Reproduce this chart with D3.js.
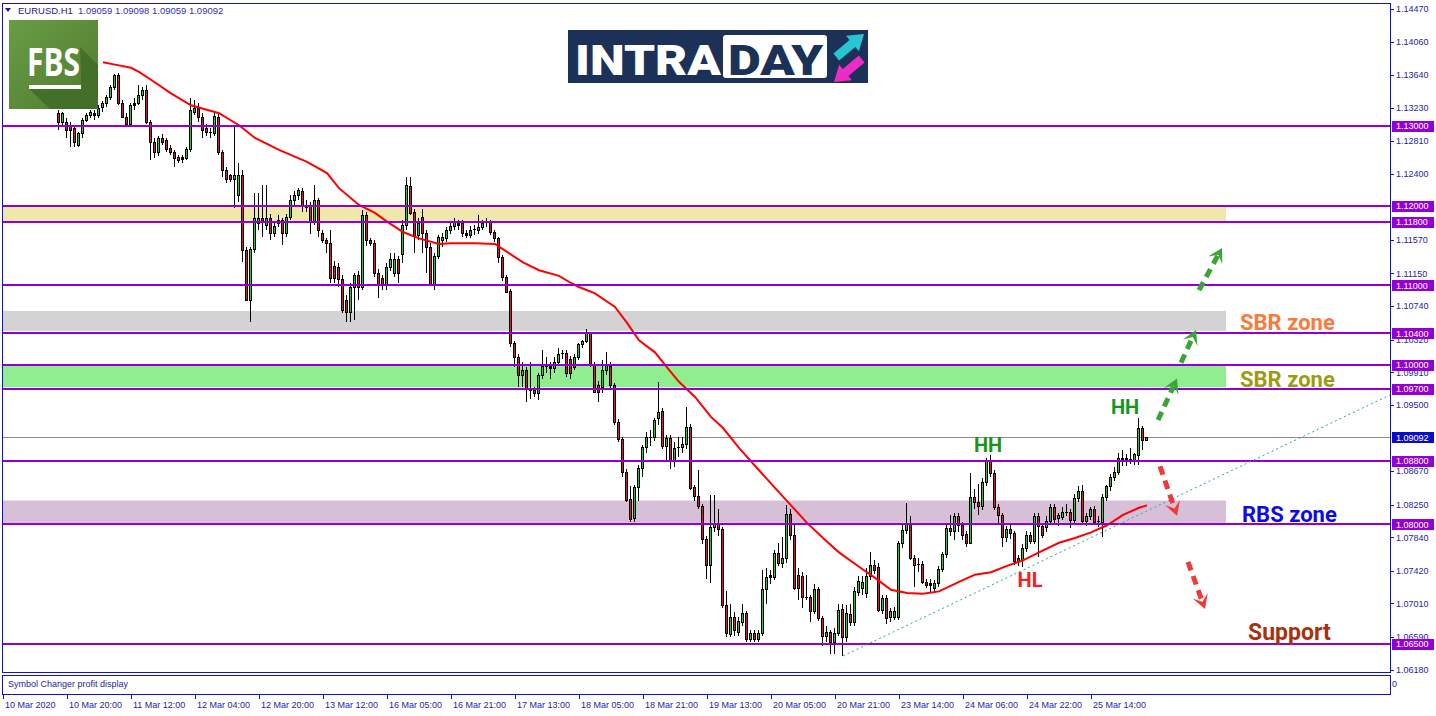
<!DOCTYPE html>
<html><head><meta charset="utf-8">
<script src="https://cdn.jsdelivr.net/npm/d3@7"></script>
<style>body{margin:0;background:#fff;overflow:hidden}svg{display:block}</style>
</head><body>
<svg id="c" width="1436" height="716"></svg>
<script>
// ---------------- DATA ----------------
const symbolTitle = "EURUSD.H1";
const lastOHLC = ["1.09059","1.09098","1.09059","1.09092"];

const opens = [
1.1316,1.1305,1.1305,1.1301,1.1297,1.1276,1.1291,1.1308,1.1314,1.1316,
1.1314,1.1324,1.1329,1.1336,1.1349,1.1364,1.1329,1.1311,1.1303,1.1326,
1.1329,1.1339,1.1345,1.1305,1.1280,1.1267,1.1285,1.1282,1.1272,1.1267,
1.1261,1.1258,1.1260,1.1271,1.1318,1.1323,1.1311,1.1297,1.1292,1.1291,
1.1311,1.1267,1.1245,1.1238,1.1233,1.1213,1.1238,1.1144,1.1082,1.1146,
1.1178,1.1185,1.1176,1.1185,1.1166,1.1178,1.1182,1.1166,1.1186,1.1207,
1.1213,1.1218,1.1201,1.1201,1.1180,1.1207,1.1166,1.1157,1.1153,1.1124,
1.1123,1.1108,1.1082,1.1067,1.1098,1.1113,1.1098,1.1188,1.1157,1.1153,
1.1116,1.1109,1.1100,1.1123,1.1116,1.1133,1.1139,1.1176,1.1225,1.1192,
1.1163,1.1186,1.1166,1.1148,1.1100,1.1137,1.1157,1.1159,1.1169,1.1175,
1.1178,1.1178,1.1166,1.1163,1.1169,1.1169,1.1173,1.1178,1.1180,1.1167,
1.1159,1.1136,1.1110,1.1093,1.1028,1.1010,1.0988,1.0994,1.0971,1.0969,
1.0965,1.0988,1.0999,1.0999,1.0996,1.1004,1.1014,1.1015,1.1008,1.0998,
1.1010,1.1026,1.1030,1.1040,1.1001,1.0975,1.0972,1.0994,1.0999,1.0975,
1.0929,1.0907,1.0866,1.0832,1.0808,1.0847,1.0871,1.0897,1.0910,1.0910,
1.0934,1.0942,1.0898,1.0908,1.0881,1.0896,1.0897,1.0901,1.0922,1.0847,
1.0836,1.0823,1.0782,1.0749,1.0797,1.0802,1.0794,1.0699,1.0662,1.0684,
1.0665,1.0678,1.0689,1.0656,1.0664,1.0656,1.0664,1.0719,1.0734,1.0734,
1.0764,1.0752,1.0758,1.0813,1.0787,1.0737,1.0735,1.0709,1.0709,1.0691,
1.0719,1.0682,1.0660,1.0665,1.0653,1.0664,1.0694,1.0659,1.0688,1.0678,
1.0715,1.0720,1.0714,1.0735,1.0749,1.0747,1.0693,1.0708,1.0684,1.0684,
1.0684,1.0777,1.0793,1.0802,1.0758,1.0750,1.0750,1.0728,1.0724,1.0720,
1.0727,1.0744,1.0763,1.0796,1.0792,1.0811,1.0799,1.0788,1.0777,1.0834,
1.0828,1.0823,1.0853,1.0880,1.0865,1.0822,1.0812,1.0784,1.0794,1.0789,
1.0758,1.0756,1.0770,1.0787,1.0779,1.0811,1.0798,1.0797,1.0804,1.0822,
1.0808,1.0809,1.0816,1.0816,1.0806,1.0833,1.0842,1.0804,1.0811,1.0819,
1.0804,1.0803,1.0834,1.0848,1.0860,1.0866,1.0881,1.0883,1.0880,1.0880,
1.0887,1.0921,1.09059];

const highs = [
1.1320,1.1318,1.1310,1.1305,1.1301,1.1292,1.1310,1.1316,1.1320,1.1320,
1.1326,1.1331,1.1339,1.1351,1.1365,1.1366,1.1333,1.1316,1.1329,1.1335,
1.1351,1.1349,1.1351,1.1308,1.1285,1.1288,1.1290,1.1285,1.1276,1.1270,
1.1264,1.1263,1.1274,1.1335,1.1333,1.1329,1.1316,1.1303,1.1297,1.1316,
1.1316,1.1270,1.1249,1.1240,1.1299,1.1254,1.1245,1.1148,1.1148,1.1216,
1.1216,1.1226,1.1226,1.1190,1.1180,1.1188,1.1185,1.1190,1.1213,1.1218,
1.1222,1.1222,1.1207,1.1205,1.1226,1.1210,1.1170,1.1160,1.1170,1.1130,
1.1128,1.1113,1.1088,1.1103,1.1116,1.1118,1.1194,1.1192,1.1160,1.1157,
1.1120,1.1113,1.1128,1.1141,1.1141,1.1137,1.1182,1.1236,1.1236,1.1196,
1.1185,1.1196,1.1170,1.1153,1.1141,1.1163,1.1166,1.1173,1.1178,1.1185,
1.1182,1.1182,1.1170,1.1175,1.1176,1.1188,1.1182,1.1185,1.1182,1.1170,
1.1161,1.1138,1.1113,1.1095,1.1030,1.1014,1.1004,1.0998,1.1004,1.0972,
1.0990,1.1019,1.1010,1.1004,1.1010,1.1021,1.1019,1.1019,1.1012,1.1014,
1.1028,1.1032,1.1045,1.1042,1.1004,1.0980,1.1006,1.1016,1.1004,1.0978,
1.0932,1.0910,1.0870,1.0848,1.0850,1.0875,1.0900,1.0916,1.0918,1.0934,
1.0979,1.0946,1.0912,1.0912,1.0903,1.0910,1.0910,1.0947,1.0926,1.0850,
1.0868,1.0826,1.0785,1.0837,1.0837,1.0820,1.0797,1.0716,1.0700,1.0690,
1.0684,1.0700,1.0692,1.0668,1.0668,1.0668,1.0743,1.0745,1.0743,1.0768,
1.0777,1.0784,1.0825,1.0820,1.0800,1.0745,1.0740,1.0737,1.0712,1.0725,
1.0722,1.0685,1.0672,1.0668,1.0670,1.0700,1.0700,1.0699,1.0700,1.0722,
1.0735,1.0735,1.0745,1.0765,1.0755,1.0752,1.0712,1.0712,1.0695,1.0697,
1.0779,1.0800,1.0827,1.0810,1.0762,1.0758,1.0754,1.0732,1.0732,1.0730,
1.0748,1.0765,1.0800,1.0812,1.0815,1.0815,1.0803,1.0792,1.0865,1.0845,
1.0851,1.0858,1.0884,1.0887,1.0868,1.0826,1.0815,1.0798,1.0800,1.0792,
1.0762,1.0775,1.0792,1.0790,1.0815,1.0815,1.0802,1.0810,1.0826,1.0826,
1.0815,1.0822,1.0826,1.0820,1.0838,1.0848,1.0849,1.0815,1.0822,1.0823,
1.0810,1.0838,1.0850,1.0863,1.0872,1.0890,1.0893,1.0888,1.0896,1.0890,
1.0934,1.0923,1.09098];

const lows = [
1.1295,1.1299,1.1285,1.1274,1.1274,1.1274,1.1285,1.1305,1.1310,1.1308,
1.1310,1.1318,1.1324,1.1333,1.1345,1.1326,1.1310,1.1301,1.1301,1.1320,
1.1326,1.1333,1.1303,1.1257,1.1260,1.1262,1.1276,1.1267,1.1263,1.1249,
1.1254,1.1254,1.1257,1.1267,1.1314,1.1305,1.1285,1.1287,1.1285,1.1288,
1.1263,1.1236,1.1228,1.1230,1.1197,1.1205,1.1129,1.1080,1.1054,1.1141,
1.1170,1.1161,1.1170,1.1157,1.1161,1.1173,1.1151,1.1161,1.1182,1.1201,
1.1207,1.1192,1.1192,1.1165,1.1176,1.1161,1.1153,1.1141,1.1103,1.1103,
1.1098,1.1065,1.1054,1.1054,1.1056,1.1082,1.1094,1.1149,1.1149,1.1110,
1.1084,1.1094,1.1094,1.1118,1.1110,1.1103,1.1128,1.1170,1.1188,1.1141,
1.1157,1.1141,1.1116,1.1100,1.1094,1.1133,1.1148,1.1155,1.1165,1.1170,
1.1170,1.1161,1.1159,1.1159,1.1163,1.1165,1.1169,1.1173,1.1163,1.1155,
1.1128,1.1105,1.1090,1.1023,1.0998,1.0972,1.0972,1.0954,1.0958,1.0960,
1.0956,1.0982,1.0990,1.0982,1.0990,1.1000,1.1008,1.0985,1.0982,1.0994,
1.1006,1.1022,1.1028,1.0998,1.0965,1.0954,1.0965,1.0988,1.0970,1.0925,
1.0903,1.0860,1.0828,1.0803,1.0803,1.0830,1.0860,1.0890,1.0898,1.0905,
1.0925,1.0895,1.0878,1.0870,1.0872,1.0885,1.0890,1.0895,1.0843,1.0830,
1.0820,1.0775,1.0732,1.0727,1.0790,1.0785,1.0695,1.0659,1.0659,1.0660,
1.0660,1.0672,1.0653,1.0653,1.0652,1.0652,1.0660,1.0700,1.0725,1.0730,
1.0748,1.0745,1.0752,1.0780,1.0718,1.0705,1.0695,1.0705,1.0677,1.0688,
1.0679,1.0648,1.0652,1.0637,1.0637,1.0660,1.0635,1.0652,1.0672,1.0672,
1.0710,1.0712,1.0708,1.0730,1.0738,1.0690,1.0688,1.0675,1.0678,1.0680,
1.0680,1.0770,1.0788,1.0755,1.0722,1.0740,1.0725,1.0720,1.0715,1.0715,
1.0722,1.0740,1.0758,1.0785,1.0780,1.0790,1.0780,1.0772,1.0775,1.0820,
1.0812,1.0818,1.0848,1.0860,1.0818,1.0800,1.0772,1.0778,1.0782,1.0749,
1.0748,1.0747,1.0765,1.0775,1.0775,1.0759,1.0783,1.0790,1.0800,1.0800,
1.0798,1.0805,1.0810,1.0795,1.0800,1.0828,1.0800,1.0798,1.0805,1.0800,
1.0797,1.0784,1.0830,1.0842,1.0855,1.0862,1.0873,1.0873,1.0876,1.0875,
1.0875,1.0894,1.09059];

const closes = [
1.1305,1.1316,1.1295,1.1295,1.1280,1.1291,1.1308,1.1314,1.1318,1.1314,
1.1322,1.1329,1.1336,1.1349,1.1364,1.1329,1.1311,1.1303,1.1326,1.1329,
1.1339,1.1345,1.1305,1.1280,1.1267,1.1285,1.1280,1.1271,1.1267,1.1260,
1.1257,1.1261,1.1271,1.1320,1.1323,1.1311,1.1295,1.1292,1.1293,1.1313,
1.1267,1.1245,1.1233,1.1233,1.1238,1.1238,1.1144,1.1082,1.1146,1.1185,
1.1185,1.1180,1.1185,1.1166,1.1175,1.1182,1.1166,1.1186,1.1207,1.1213,
1.1220,1.1201,1.1198,1.1180,1.1207,1.1169,1.1157,1.1153,1.1109,1.1109,
1.1108,1.1069,1.1067,1.1098,1.1113,1.1098,1.1188,1.1157,1.1153,1.1116,
1.1100,1.1100,1.1123,1.1133,1.1133,1.1116,1.1176,1.1226,1.1191,1.1163,
1.1178,1.1166,1.1148,1.1100,1.1137,1.1161,1.1161,1.1169,1.1175,1.1180,
1.1176,1.1166,1.1163,1.1170,1.1171,1.1173,1.1178,1.1180,1.1167,1.1159,
1.1136,1.1110,1.1092,1.1028,1.1010,1.0988,1.0994,1.0971,1.0969,1.0965,
1.0988,1.0999,1.0998,1.0996,1.1004,1.1014,1.1015,1.0990,1.0990,1.1010,
1.1026,1.1030,1.1040,1.1001,1.0966,1.0966,1.0994,1.1000,1.0975,1.0929,
1.0907,1.0866,1.0831,1.0807,1.0847,1.0871,1.0897,1.0910,1.0908,1.0931,
1.0941,1.0898,1.0908,1.0881,1.0896,1.0897,1.0901,1.0922,1.0846,1.0836,
1.0823,1.0782,1.0749,1.0797,1.0802,1.0794,1.0699,1.0664,1.0684,1.0668,
1.0679,1.0689,1.0656,1.0664,1.0656,1.0664,1.0719,1.0734,1.0736,1.0764,
1.0752,1.0758,1.0813,1.0787,1.0720,1.0720,1.0709,1.0708,1.0691,1.0719,
1.0682,1.0660,1.0665,1.0653,1.0664,1.0693,1.0659,1.0689,1.0678,1.0716,
1.0729,1.0728,1.0735,1.0749,1.0743,1.0693,1.0708,1.0683,1.0691,1.0691,
1.0777,1.0793,1.0802,1.0758,1.0749,1.0749,1.0728,1.0724,1.0727,1.0727,
1.0744,1.0763,1.0796,1.0792,1.0811,1.0799,1.0787,1.0777,1.0834,1.0828,
1.0823,1.0853,1.0880,1.0865,1.0822,1.0812,1.0784,1.0794,1.0789,1.0754,
1.0754,1.0770,1.0787,1.0779,1.0811,1.0798,1.0787,1.0804,1.0822,1.0807,
1.0812,1.0816,1.0815,1.0806,1.0833,1.0842,1.0804,1.0811,1.0819,1.0803,
1.0803,1.0834,1.0848,1.0860,1.0866,1.0883,1.0883,1.0881,1.0882,1.0888,
1.0921,1.0906,1.09092];

// moving average (red) read at bar positions
const maBars = [11,14,18,20,23,28,33,40,45,49,55,62,67,70,75,79,82,86,90,95,98,104,109,112,116,120,125,128,130,134,139,142,145,149,152,155,159,163,166,170,175,179,183,187,191,195,200,204,208,212,216,220,225,229,233,237,241,245,250,254,258,262,266,270,272];
const maValues = [1.1380,1.1377,1.1373,1.1368,1.1358,1.1341,1.1326,1.1316,1.1301,1.1285,1.1270,1.1255,1.1241,1.1222,1.1201,1.1191,1.1180,1.1167,1.1159,1.1152,1.1153,1.1153,1.1152,1.1142,1.1129,1.1119,1.1112,1.1103,1.1098,1.1090,1.1073,1.1053,1.1031,1.1016,1.0997,1.0979,1.0960,1.0935,1.0921,1.0896,1.0868,1.0846,1.0824,1.0802,1.0783,1.0765,1.0747,1.0733,1.0718,1.0714,1.0713,1.0716,1.0728,1.0737,1.0740,1.0748,1.0755,1.0765,1.0777,1.0783,1.0790,1.0799,1.0812,1.0821,1.0824];

// horizontal levels
const levelValues = [1.13000,1.12000,1.11800,1.11000,1.10400,1.10000,1.09700,1.08800,1.08000,1.06500];
const currentPrice = 1.09092;

// zones [low, high]
const zoneLows  = [1.1180,1.1043,1.0972,1.0802];
const zoneHighs = [1.1200,1.1068,1.0999,1.0830];
const zoneColors = ["#EEE8AA","#D3D3D3","#90EE90","#D8BFD8"];
const zoneEndBar = 291.75;

// price axis tick labels
const priceTicks = [1.14470,1.14060,1.13640,1.13230,1.12810,1.12400,1.11570,1.11150,1.10740,1.10320,1.09910,1.09500,1.08670,1.08250,1.07840,1.07420,1.07010,1.06590,1.06180];

// time axis
const timeTickBars = [-14,2,18,34,50,66,82,98,114,130,146,162,178,194,210,226,242,258];
const timeLabels = ["10 Mar 2020","10 Mar 20:00","11 Mar 12:00","12 Mar 04:00","12 Mar 20:00","13 Mar 12:00","16 Mar 05:00","16 Mar 21:00","17 Mar 13:00","18 Mar 05:00","18 Mar 21:00","19 Mar 13:00","20 Mar 05:00","20 Mar 21:00","23 Mar 14:00","24 Mar 06:00","24 Mar 22:00","25 Mar 14:00"];

// trendline anchors
const trendBars = [196, 272];
const trendPrices = [1.0635, 1.0817];
const trendEndBar = 333;

// scenario arrows [fromBar, fromPrice, toBar, toPrice]
const greenArrows = [[274.75,1.0931,279.5,1.0983],[280.5,1.1003,284.25,1.1044],[285,1.1094,290.75,1.1147]];
const redArrows = [[275.25,1.0873,279.5,1.0811],[282.25,1.0753,286.5,1.0694]];

// text annotations
const noteTexts  = ["SBR zone","SBR zone","RBS zone","Support","HH","HH","HL"];
const noteBars   = [295.25,295.25,295.75,297.25,232.25,266.5,242.75];
const notePrices = [1.1054,1.0982,1.0813,1.0665,1.0900,1.0947,1.0730];
const noteColors = ["#FA7A3C","#9C9C12","#0A0AF0","#A8320F","#17961A","#17961A","#EE2222"];
const noteAnchors= ["start","start","start","start","middle","middle","middle"];

// ---------------- DRAW ----------------
const svg = d3.select("#c");
const paneL = 2, paneT = 3, paneR = 1390, paneB = 672;
const frameColor = "#1212CC", axisText = "#1E1EA6", levelColor = "#9400D3";

const x = d3.scaleLinear().domain([0, 272]).range([59, 1147]);
const y = d3.scaleLinear().domain([1.065, 1.13]).range([644, 126]);

svg.append("rect").attr("width",1436).attr("height",716).attr("fill","#fff");

svg.append("defs").append("clipPath").attr("id","pane")
  .append("rect").attr("x",paneL).attr("y",paneT).attr("width",paneR-paneL).attr("height",paneB-paneT);

const pane = svg.append("g").attr("clip-path","url(#pane)");

// zones
pane.selectAll("rect.zone").data(zoneLows).join("rect").attr("class","zone")
  .attr("x", paneL+1).attr("width", x(zoneEndBar)-paneL-1)
  .attr("y", (d,i)=>y(zoneHighs[i])).attr("height",(d,i)=>y(d)-y(zoneHighs[i]))
  .attr("fill",(d,i)=>zoneColors[i]);

// current price line
pane.append("line").attr("x1",paneL).attr("x2",paneR)
  .attr("y1",Math.round(y(currentPrice))+0.5).attr("y2",Math.round(y(currentPrice))+0.5)
  .attr("stroke","#8c8c8c").attr("stroke-width",1);

// candles
const idx = d3.range(opens.length);
const cg = pane.append("g").attr("shape-rendering","crispEdges");
idx.forEach(i=>{
  const cx = Math.round(x(i)) - 1;
  const o=opens[i], c=closes[i], h=highs[i], l=lows[i];
  const yh = Math.round(y(h)), yl = Math.round(y(l));
  cg.append("rect").attr("x",cx).attr("width",1).attr("y",yh).attr("height",Math.max(1,yl-yh)).attr("fill","#000");
  const top = Math.round(y(Math.max(o,c))), bot = Math.round(y(Math.min(o,c)));
  const bh = Math.max(1, bot-top);
  cg.append("rect").attr("x",cx-1).attr("width",3).attr("y",top).attr("height",bh+ (bh>1?1:0)).attr("fill","#000");
  if (bh>2) cg.append("rect").attr("x",cx).attr("width",1).attr("y",top+1).attr("height",bh-1)
     .attr("fill", c>=o ? "#2FC42F" : "#E01E1E");
});

// moving average
pane.append("path").datum(maBars)
  .attr("d", d3.line().x(b=>x(b)).y((b,i)=>y(maValues[i])))
  .attr("fill","none").attr("stroke","#FF0000").attr("stroke-width",2);

// level lines
pane.selectAll("line.lvl").data(levelValues).join("line").attr("class","lvl")
  .attr("x1",paneL).attr("x2",paneR)
  .attr("y1",d=>Math.round(y(d))).attr("y2",d=>Math.round(y(d)))
  .attr("stroke",levelColor).attr("stroke-width",2);

// trendline
const slope = (trendPrices[1]-trendPrices[0])/(trendBars[1]-trendBars[0]);
pane.append("line")
  .attr("x1",x(trendBars[0])).attr("y1",y(trendPrices[0]))
  .attr("x2",x(trendEndBar)).attr("y2",y(trendPrices[0]+slope*(trendEndBar-trendBars[0])))
  .attr("stroke","#20A8A0").attr("stroke-width",1).attr("stroke-dasharray","2,3");

// scenario arrows
function drawArrow(a, color){
  const x1=x(a[0]), y1=y(a[1]), x2=x(a[2]), y2=y(a[3]);
  const dx=x2-x1, dy=y2-y1, L=Math.hypot(dx,dy), ux=dx/L, uy=dy/L, nx=-uy, ny=ux;
  const hl=14, hw=8;
  pane.append("line").attr("x1",x1).attr("y1",y1).attr("x2",x2-ux*hl*0.6).attr("y2",y2-uy*hl*0.6)
    .attr("stroke",color).attr("stroke-width",5).attr("stroke-dasharray","9,6");
  const p = [[x2,y2],[x2-ux*hl+nx*hw,y2-uy*hl+ny*hw],[x2-ux*hl*0.55,y2-uy*hl*0.55],[x2-ux*hl-nx*hw,y2-uy*hl-ny*hw]];
  pane.append("polygon").attr("points",p.map(q=>q.join(",")).join(" ")).attr("fill",color);
}
greenArrows.forEach(a=>drawArrow(a,"#39A537"));
redArrows.forEach(a=>drawArrow(a,"#F03A3A"));

// annotations
pane.selectAll("text.note").data(noteTexts).join("text").attr("class","note")
  .attr("x",(d,i)=>x(noteBars[i])).attr("y",(d,i)=>y(notePrices[i]))
  .attr("dominant-baseline","central").attr("text-anchor",(d,i)=>noteAnchors[i])
  .attr("font-family","Roboto, 'Open Sans', sans-serif").attr("font-weight","bold")
  .attr("font-size",(d,i)=> i>=4 ? 20 : (i===3?23:22))
  .attr("fill",(d,i)=>noteColors[i]).text(d=>d);

// header
svg.append("polygon").attr("points","5,8 11,8 8,12").attr("fill","#20208C");
svg.append("text").attr("x",18).attr("y",14).attr("font-family","'Liberation Sans', Arial, sans-serif")
  .attr("font-size",9.5).attr("fill","#20208C").text(symbolTitle);
svg.append("text").attr("x",78).attr("y",14).attr("font-family","'Liberation Sans', Arial, sans-serif")
  .attr("font-size",9.5).attr("fill","#3030C0").text(lastOHLC.join(" "));

// FBS logo
const defs = svg.select("defs");
const lg = defs.append("linearGradient").attr("id","fbsg").attr("x1","0").attr("y1","0").attr("x2","1").attr("y2","1");
lg.append("stop").attr("offset","0").attr("stop-color","#6A9C45");
lg.append("stop").attr("offset","1").attr("stop-color","#4E7C2F");
svg.append("rect").attr("x",9).attr("y",20).attr("width",89).attr("height",89).attr("fill","url(#fbsg)");
svg.append("polygon").attr("points","80,47 98,65 98,109 50,109 29,89 81,89 81,75").attr("fill","#3F6A25").attr("opacity",0.8);
svg.append("text").attr("x",27).attr("y",76).attr("font-family","'Open Sans', Roboto, sans-serif").attr("font-weight","bold")
  .attr("font-size",39).attr("textLength",53).attr("lengthAdjust","spacingAndGlyphs").attr("fill","#fff").text("FBS");
svg.append("rect").attr("x",29).attr("y",85).attr("width",52).attr("height",4).attr("fill","#fff");

// INTRADAY logo
svg.append("rect").attr("x",568).attr("y",30).attr("width",300).attr("height",53).attr("fill","#1B3157");
svg.append("text").attr("x",575).attr("y",75).attr("font-family","Roboto, 'Open Sans', sans-serif").attr("font-weight",900)
  .attr("font-size",43).attr("textLength",146).attr("lengthAdjust","spacingAndGlyphs").attr("fill","#fff").text("INTRA");
svg.append("rect").attr("x",723).attr("y",35).attr("width",104).attr("height",43).attr("rx",3).attr("fill","#fff");
svg.append("text").attr("x",728).attr("y",75).attr("font-family","Roboto, 'Open Sans', sans-serif").attr("font-weight",900)
  .attr("font-size",43).attr("textLength",95).attr("lengthAdjust","spacingAndGlyphs").attr("fill","#1B3157").text("DAY");
function logoArrow(tx,ty,ang,len,color){
  const ux=Math.cos(ang), uy=Math.sin(ang), nx=-uy, ny=ux, hl=15, hw=10, sw=4.5;
  const bx=tx-ux*hl, by=ty-uy*hl, ex=tx-ux*len, ey=ty-uy*len;
  const pts=[[tx,ty],[bx+nx*hw,by+ny*hw],[bx+nx*sw,by+ny*sw],[ex+nx*sw,ey+ny*sw],[ex-nx*sw,ey-ny*sw],[bx-nx*sw,by-ny*sw],[bx-nx*hw,by-ny*hw]];
  svg.append("polygon").attr("points",pts.map(p=>p.join(",")).join(" ")).attr("fill",color);
}
logoArrow(864,34,-Math.PI*0.22,36,"#26C6D2");
logoArrow(834,82,Math.PI*0.78,36,"#EC2CC4");

// frames
svg.append("rect").attr("x",paneL+0.5).attr("y",paneT+0.5).attr("width",paneR-paneL).attr("height",paneB-paneT)
  .attr("fill","none").attr("stroke",frameColor).attr("stroke-width",1);
svg.append("rect").attr("x",paneL+0.5).attr("y",675.5).attr("width",paneR-paneL).attr("height",19)
  .attr("fill","none").attr("stroke",frameColor).attr("stroke-width",1);
svg.append("text").attr("x",8).attr("y",687).attr("font-family","'Liberation Sans', Arial, sans-serif")
  .attr("font-size",9).attr("fill","#1E1EA6").text("Symbol Changer profit display");
svg.append("text").attr("x",1392).attr("y",687).attr("font-family","'Liberation Sans', Arial, sans-serif")
  .attr("font-size",9).attr("fill","#1E1EA6").text("0");

// price axis
const ax = svg.append("g").attr("shape-rendering","crispEdges");
ax.selectAll("line.pt").data(priceTicks).join("line").attr("class","pt")
  .attr("x1",paneR).attr("x2",paneR+4).attr("y1",d=>Math.round(y(d))+0.5).attr("y2",d=>Math.round(y(d))+0.5)
  .attr("stroke",frameColor);
ax.selectAll("text.pt").data(priceTicks).join("text").attr("class","pt")
  .attr("x",1396).attr("y",d=>y(d)+3.3).attr("font-family","'Liberation Sans', Arial, sans-serif")
  .attr("font-size",9).attr("fill",axisText).text(d=>d.toFixed(5));
ax.selectAll("rect.lv").data(levelValues).join("rect").attr("class","lv")
  .attr("x",1392).attr("width",42).attr("y",d=>Math.round(y(d))-5).attr("height",11).attr("fill",levelColor);
ax.selectAll("text.lv").data(levelValues).join("text").attr("class","lv")
  .attr("x",1396).attr("y",d=>y(d)+3.3).attr("font-family","'Liberation Sans', Arial, sans-serif")
  .attr("font-size",9).attr("fill","#fff").text(d=>d.toFixed(5));
ax.append("rect").attr("x",1392).attr("width",42).attr("y",Math.round(y(currentPrice))-5).attr("height",11).attr("fill","#0A0AC8");
ax.append("text").attr("x",1396).attr("y",y(currentPrice)+3.3).attr("font-family","'Liberation Sans', Arial, sans-serif")
  .attr("font-size",9).attr("fill","#fff").text(currentPrice.toFixed(5));

// time axis
const tx = svg.append("g");
tx.selectAll("line").data(timeTickBars).join("line")
  .attr("x1",b=>Math.round(x(b))+0.5).attr("x2",b=>Math.round(x(b))+0.5).attr("y1",695).attr("y2",699)
  .attr("stroke",frameColor);
tx.selectAll("text").data(timeLabels).join("text")
  .attr("x",(d,i)=>x(timeTickBars[i])+2).attr("y",708)
  .attr("font-family","'Liberation Sans', Arial, sans-serif").attr("font-size",9).attr("fill",axisText).text(d=>d);
</script>
</body></html>
